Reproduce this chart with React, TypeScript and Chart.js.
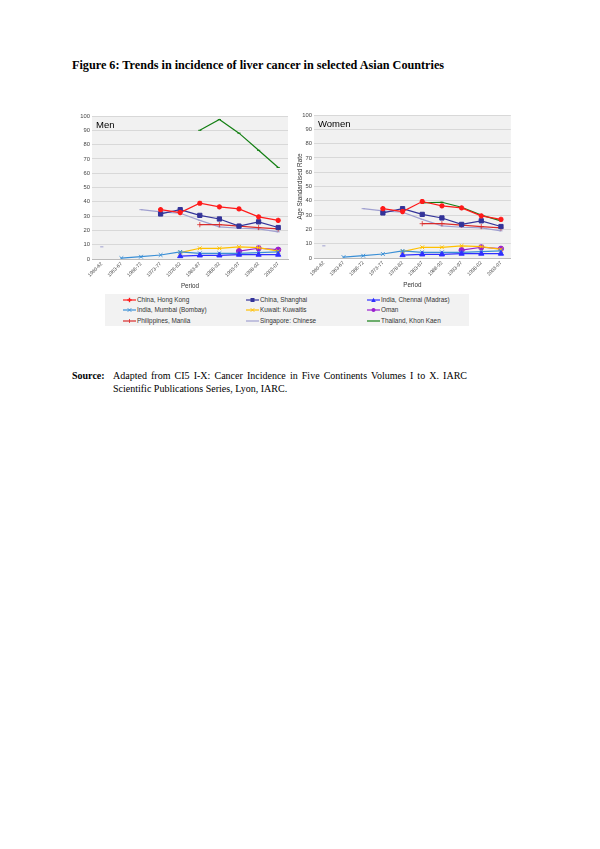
import React, { useEffect, useRef } from "react";
import { Chart, registerables } from "chart.js";
Chart.register(...registerables);

const periods = ["1960-62", "1963-67", "1968-72", "1973-77", "1978-82", "1983-87", "1988-92", "1993-97", "1998-02", "2003-07"];
const yTicks = [0, 10, 20, 30, 40, 50, 60, 70, 80, 90, 100];

const seriesNames = [
  "China, Hong Kong", "China, Shanghai", "India, Chennai (Madras)",
  "India, Mumbai (Bombay)", "Kuwait: Kuwaitis", "Oman",
  "Philippines, Manila", "Singapore: Chinese", "Thailand, Khon Kaen",
];

// Men
const hongKongMen = [null, null, null, 34.5, 32.5, 39, 36.5, 35, 29.5, 27];
const shanghaiMen = [null, null, null, 31.5, 34.5, 30.5, 28, 23, 26, 22];
const chennaiMen = [null, null, null, null, 2, 2.5, 2.5, 3, 3, 3];
const mumbaiMen = [null, 0.6, 1.6, 2.8, 5, 4, 4, 4, 4.5, 5];
const kuwaitMen = [null, null, null, null, 4.5, 7.5, 7.5, 8.5, 8, 5.5];
const omanMen = [null, null, null, null, null, null, null, 5.5, 7.5, 6.5];
const manilaMen = [null, null, null, null, null, 24, 24, 23, 22, 21];
const singaporeMen = [8.5, null, 34.5, 33, 32, 27, 22.5, 21.5, 21, 19];
const thailandMen = [null, null, null, null, null, 90, 97.5, 88, 76, 64];

// Women
const hongKongWomen = [null, null, null, 34.5, 32.5, 39.5, 36.5, 35, 29.5, 27];
const shanghaiWomen = [null, null, null, 31.5, 34.5, 30.5, 28, 23.5, 26, 22];
const chennaiWomen = [null, null, null, null, 2, 2.5, 2.5, 3, 3, 3];
const mumbaiWomen = [null, 0.6, 1.6, 2.8, 5, 4, 4, 4, 4.5, 5];
const kuwaitWomen = [null, null, null, null, 4.5, 7.5, 7.5, 8.5, 8, 6];
const omanWomen = [null, null, null, null, null, null, null, 5.5, 7.5, 6.5];
const manilaWomen = [null, null, null, null, null, 24, 24, 23, 22, 21];
const singaporeWomen = [8.5, null, 34.5, 33, 32, 27, 22.5, 21.5, 21, 19];
const thailandWomen = [null, null, null, null, null, 38.5, 39, 35.5, 30, 26];

const styles = [
  { color: "#ff1a1a", pointStyle: "star", radius: 2.6, pw: 1.6 },
  { color: "#333399", pointStyle: "rect", radius: 3, pw: 1 },
  { color: "#2f2fff", pointStyle: "triangle", radius: 3, pw: 1 },
  { color: "#3a8fd6", pointStyle: "crossRot", radius: 2.6, pw: 1 },
  { color: "#ffc000", pointStyle: "crossRot", radius: 2.6, pw: 1 },
  { color: "#9a1fd0", pointStyle: "circle", radius: 2.6, pw: 1 },
  { color: "#d92b2b", pointStyle: "cross", radius: 2.6, pw: 0.8 },
  { color: "#a0a0d0", pointStyle: "line", radius: 1.6, pw: 1 },
  { color: "#137f13", pointStyle: "line", radius: 1.6, pw: 1 },
];

const FONT = "Arial, 'Liberation Sans', sans-serif";

function buildDatasets(values: (number | null)[][]) {
  return values.map((data, i) => {
    const s = styles[i];
    return {
      label: seriesNames[i],
      data,
      borderColor: s.color,
      backgroundColor: s.color,
      borderWidth: 1.2,
      pointStyle: s.pointStyle as any,
      pointRadius: s.radius,
      pointBorderWidth: s.pw,
      pointHoverRadius: s.radius,
      spanGaps: false,
      tension: 0,
    };
  });
}

const bgPlugin = {
  id: "panelBg",
  beforeDraw(chart: any) {
    const { ctx, chartArea } = chart;
    ctx.save();
    ctx.fillStyle = "#f1f1f1";
    ctx.fillRect(chartArea.left, chartArea.top, chartArea.width, chartArea.height);
    ctx.restore();
  },
  beforeDatasetsDraw(chart: any) {
    const { ctx, chartArea } = chart;
    const label = chart.options.plugins.panelBg?.label;
    if (!label) return;
    ctx.save();
    ctx.fillStyle = "#000";
    ctx.font = "9.5px " + FONT;
    ctx.textBaseline = "top";
    ctx.fillText(label, chartArea.left + 4, chartArea.top + 4.5);
    ctx.restore();
  },
};

function makeConfig(values: (number | null)[][], label: string, yWidth: number, showYTitle: boolean, padRight: number): any {
  return {
    type: "line",
    data: { labels: periods, datasets: buildDatasets(values) },
    plugins: [bgPlugin],
    options: {
      animation: false,
      responsive: false,
      maintainAspectRatio: false,
      layout: { padding: { top: 6, right: padRight, left: 0, bottom: 0 } },
      plugins: {
        legend: { display: false },
        tooltip: { enabled: false },
        panelBg: { label },
      },
      scales: {
        x: {
          offset: true,
          grid: { display: false, drawTicks: false },
          border: { color: "#bbbbbb" },
          ticks: {
            color: "#444",
            font: { size: 5, family: FONT },
            minRotation: 45,
            maxRotation: 45,
            autoSkip: false,
            padding: 2,
          },
          title: {
            display: true,
            text: "Period",
            color: "#333",
            font: { size: 6.3, family: FONT },
            padding: { top: 0, bottom: 2 },
          },
          afterFit: (s: any) => { s.height = 33; },
        },
        y: {
          min: 0,
          max: 100,
          afterBuildTicks: (s: any) => { s.ticks = yTicks.map((v) => ({ value: v })); },
          grid: { color: "#d2d2d2", drawTicks: false, lineWidth: 0.8 },
          border: { display: false },
          ticks: {
            color: "#444",
            font: { size: 5.8, family: FONT },
            padding: 2,
          },
          title: {
            display: showYTitle,
            text: "Age Standardised Rate",
            color: "#333",
            font: { size: 6.4, family: FONT },
            padding: 0,
          },
          afterFit: (s: any) => { s.width = yWidth; },
        },
      },
    },
  };
}

function ChartBox(props: { left: number; top: number; width: number; height: number; config: () => any }) {
  const ref = useRef<HTMLCanvasElement | null>(null);
  useEffect(() => {
    if (!ref.current) return;
    const chart = new Chart(ref.current, props.config());
    return () => chart.destroy();
  }, []);
  return (
    <div style={{ position: "absolute", left: props.left, top: props.top, width: props.width, height: props.height }}>
      <canvas ref={ref} width={props.width} height={props.height} style={{ width: props.width, height: props.height }} />
    </div>
  );
}

function LegendMarker({ i }: { i: number }) {
  const s = styles[i];
  const c = s.color;
  let shape: React.ReactNode = null;
  const cx = 6.5, cy = 3;
  switch (s.pointStyle) {
    case "star":
      shape = (<g stroke={c} strokeWidth={1.4}><line x1={cx - 2.2} y1={cy} x2={cx + 2.2} y2={cy} /><line x1={cx} y1={cy - 2.2} x2={cx} y2={cy + 2.2} /></g>);
      break;
    case "rect":
      shape = <rect x={cx - 2} y={cy - 2} width={4} height={4} fill={c} />;
      break;
    case "triangle":
      shape = <polygon points={`${cx},${cy - 2.3} ${cx + 2.3},${cy + 2} ${cx - 2.3},${cy + 2}`} fill={c} />;
      break;
    case "crossRot":
      shape = (<g stroke={c} strokeWidth={0.9}><line x1={cx - 1.8} y1={cy - 1.8} x2={cx + 1.8} y2={cy + 1.8} /><line x1={cx - 1.8} y1={cy + 1.8} x2={cx + 1.8} y2={cy - 1.8} /></g>);
      break;
    case "circle":
      shape = <circle cx={cx} cy={cy} r={2} fill={c} />;
      break;
    case "cross":
      shape = (<g stroke={c} strokeWidth={0.8}><line x1={cx} y1={cy - 2} x2={cx} y2={cy + 2} /></g>);
      break;
    default:
      shape = null;
  }
  return (
    <svg width={13} height={6} style={{ position: "absolute", left: 0, top: -3 }}>
      <line x1={0} y1={cy} x2={13} y2={cy} stroke={c} strokeWidth={1.2} />
      {shape}
    </svg>
  );
}

const legendCols = [18, 141, 262];
const legendRows = [5.5, 16, 26.5];

function Legend() {
  return (
    <div style={{ position: "absolute", left: 105, top: 294, width: 364, height: 32, background: "#f2f2f2" }}>
      {seriesNames.map((name, i) => {
        const col = i % 3;
        const row = Math.floor(i / 3);
        return (
          <div key={name} style={{ position: "absolute", left: legendCols[col], top: legendRows[row], height: 0 }}>
            <LegendMarker i={i} />
            <span style={{ position: "absolute", left: 14, top: -4, whiteSpace: "nowrap", fontFamily: FONT, fontSize: 6.4, lineHeight: "8px", color: "#333" }}>{name}</span>
          </div>
        );
      })}
    </div>
  );
}

export default function App() {
  const menValues = [hongKongMen, shanghaiMen, chennaiMen, mumbaiMen, kuwaitMen, omanMen, manilaMen, singaporeMen, thailandMen];
  const womenValues = [hongKongWomen, shanghaiWomen, chennaiWomen, mumbaiWomen, kuwaitWomen, omanWomen, manilaWomen, singaporeWomen, thailandWomen];
  return (
    <div style={{ position: "absolute", left: 0, top: 0, width: 600, height: 849, background: "#fff", overflow: "hidden" }}>
      <div style={{ position: "absolute", left: 72, top: 58, whiteSpace: "nowrap", fontFamily: "'Liberation Serif', 'Times New Roman', serif", fontWeight: "bold", fontSize: 12.2, lineHeight: "15px", color: "#000" }}>
        Figure 6: Trends in incidence of liver cancer in selected Asian Countries
      </div>
      <ChartBox left={80} top={110} width={215} height={182} config={() => makeConfig(menValues, "Men", 12, false, 7)} />
      <ChartBox left={296} top={109} width={219} height={182} config={() => makeConfig(womenValues, "Women", 18, true, 4)} />
      <Legend />
      <div style={{ position: "absolute", left: 72, top: 369, fontFamily: "'Liberation Serif', 'Times New Roman', serif", fontSize: 10, lineHeight: "13px", color: "#000" }}>
        <span style={{ fontWeight: "bold", position: "absolute", left: 0, top: 0 }}>Source:</span>
        <div style={{ position: "absolute", left: 41, top: 0, width: 354 }}>
          <div style={{ textAlign: "justify", textAlignLast: "justify" as any, whiteSpace: "nowrap" }}>Adapted from CI5 I-X: Cancer Incidence in Five Continents Volumes I to X. IARC</div>
          <div style={{ whiteSpace: "nowrap" }}>Scientific Publications Series, Lyon, IARC.</div>
        </div>
      </div>
    </div>
  );
}
